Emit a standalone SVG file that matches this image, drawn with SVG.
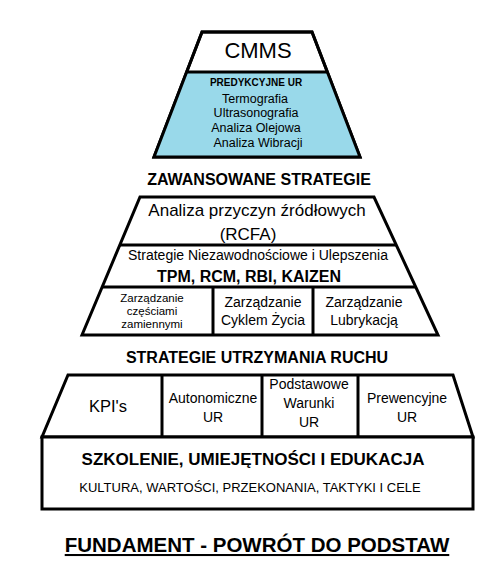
<svg xmlns="http://www.w3.org/2000/svg" width="502" height="567" viewBox="0 0 502 567">
<style>
.s{fill:none;stroke:#000;stroke-width:3;stroke-linejoin:miter}
.w{fill:#fff;stroke:#000;stroke-width:3}
.t{font-family:"Liberation Sans",Arial,sans-serif;fill:#000;text-anchor:middle}
.b{font-weight:bold}
</style>
<rect width="502" height="567" fill="#fff"/>
<g id="top">
<polygon points="202,32 312,32 360,157 154,157" class="w"/>
<polygon points="187,72 327,72 360,157 154,157" fill="#99D9EA"/>
<polygon points="202,32 312,32 360,157 154,157" class="s"/>
<line x1="187" y1="72" x2="327" y2="72" class="s"/>
<text x="258" y="58" class="t" font-size="22">CMMS</text>
<text x="256" y="86" class="t b" font-size="10">PREDYKCYJNE UR</text>
<text x="255" y="103" class="t" font-size="12.5">Termografia</text>
<text x="256" y="117" class="t" font-size="12.5">Ultrasonografia</text>
<text x="256" y="132" class="t" font-size="12.5">Analiza Olejowa</text>
<text x="258" y="147" class="t" font-size="12.5">Analiza Wibracji</text>
</g>
<g id="label-advanced">
<text x="259" y="185" class="t b" font-size="16">ZAWANSOWANE STRATEGIE</text>
</g>
<g id="middle">
<polygon points="140,197 374,197 438,335 82,335" class="w"/>
<line x1="120" y1="245" x2="396" y2="245" class="s"/>
<line x1="102" y1="287" x2="416" y2="287" class="s"/>
<line x1="213" y1="287" x2="213" y2="335" class="s"/>
<line x1="313" y1="287" x2="313" y2="335" class="s"/>
<text x="257" y="216" class="t" font-size="17">Analiza przyczyn źródłowych</text>
<text x="248" y="240" class="t" font-size="17">(RCFA)</text>
<text x="258" y="260" class="t" font-size="14">Strategie Niezawodnościowe i Ulepszenia</text>
<text x="249" y="282" class="t b" font-size="16">TPM, RCM, RBI, KAIZEN</text>
<text x="152" y="302" class="t" font-size="11.5">Zarządzanie</text>
<text x="152" y="315" class="t" font-size="11.5">częściami</text>
<text x="152" y="328" class="t" font-size="11.5">zamiennymi</text>
<text x="263" y="307" class="t" font-size="14">Zarządzanie</text>
<text x="263" y="325" class="t" font-size="14">Cyklem Życia</text>
<text x="364" y="307" class="t" font-size="14">Zarządzanie</text>
<text x="364" y="325" class="t" font-size="14">Lubrykacją</text>
</g>
<g id="label-maintenance">
<text x="257" y="363" class="t b" font-size="16">STRATEGIE UTRZYMANIA RUCHU</text>
</g>
<g id="base">
<polygon points="68,375 453,375 473,437 42,437" class="w"/>
<rect x="42" y="437" width="431" height="72" class="w"/>
<line x1="162" y1="375" x2="162" y2="437" class="s"/>
<line x1="262" y1="375" x2="262" y2="437" class="s"/>
<line x1="358" y1="375" x2="358" y2="437" class="s"/>
<text x="108" y="412" class="t" font-size="16.5">KPI's</text>
<text x="213" y="403" class="t" font-size="14">Autonomiczne</text>
<text x="213" y="422" class="t" font-size="14">UR</text>
<text x="309" y="389" class="t" font-size="14">Podstawowe</text>
<text x="309" y="408" class="t" font-size="14">Warunki</text>
<text x="309" y="427" class="t" font-size="14">UR</text>
<text x="407" y="403" class="t" font-size="14">Prewencyjne</text>
<text x="407" y="422" class="t" font-size="14">UR</text>
<text x="253" y="465" class="t b" font-size="17">SZKOLENIE, UMIEJĘTNOŚCI I EDUKACJA</text>
<text x="250" y="492" class="t" font-size="13">KULTURA, WARTOŚCI, PRZEKONANIA, TAKTYKI I CELE</text>
</g>
<g id="title">
<text x="257" y="552" class="t b" font-size="20.5" text-decoration="underline">FUNDAMENT - POWRÓT DO PODSTAW</text>
</g>
<g id="connectors"></g>
</svg>
